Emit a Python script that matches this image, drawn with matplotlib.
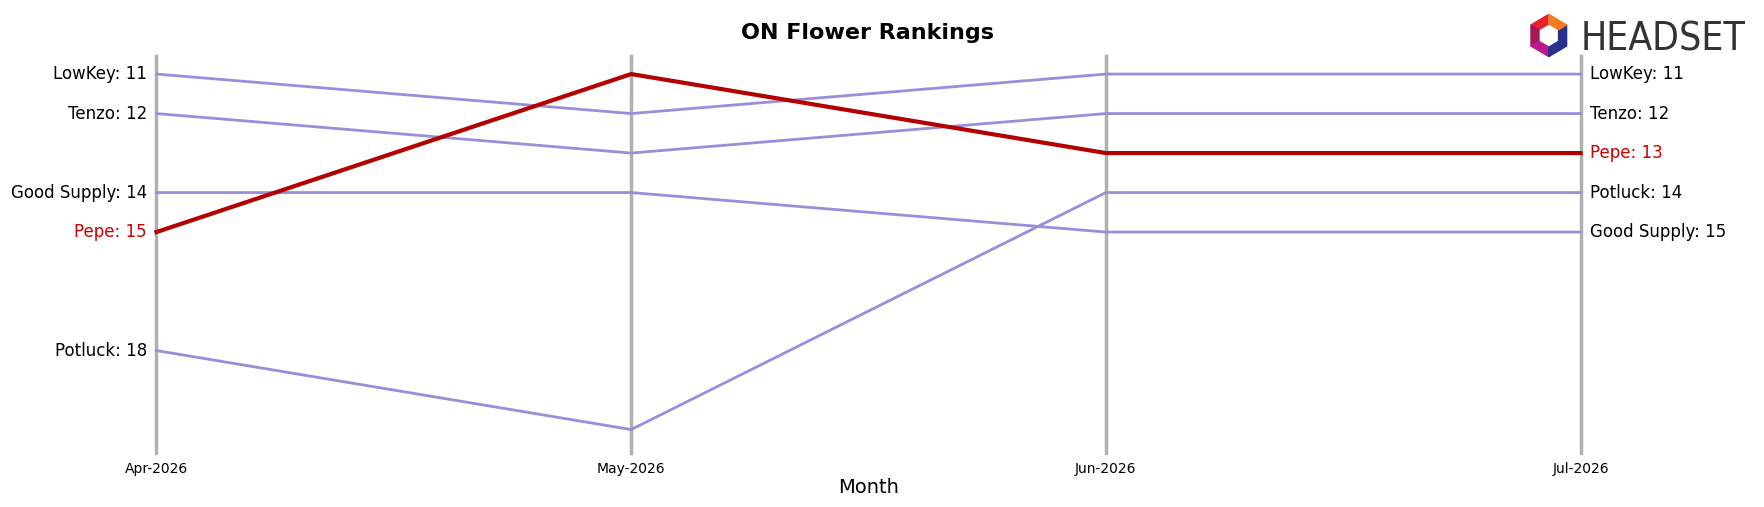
import matplotlib.pyplot as plt
import numpy as np
from matplotlib.patches import Polygon

months = ["Apr-2026", "May-2026", "Jun-2026", "Jul-2026"]
brands = ["LowKey", "Tenzo", "Good Supply", "Pepe", "Potluck"]
ranks = {
    "LowKey": [11, 12, 11, 11],
    "Tenzo": [12, 13, 12, 12],
    "Good Supply": [14, 14, 15, 15],
    "Pepe": [15, 11, 13, 13],
    "Potluck": [18, 20, 14, 14],
}
highlight = "Pepe"

fig = plt.figure(figsize=(17.64, 5.07), dpi=100)
ax = fig.add_axes([0.0887, 0.106, 0.8073, 0.783])
x = list(range(len(months)))

for xi in x:
    ax.axvline(xi, color="#b0b0b0", lw=2.5, zorder=0, clip_on=False)

for b in brands:
    if b == highlight:
        ax.plot(x, ranks[b], color="#b30000", lw=3, zorder=3, clip_on=False)
    else:
        ax.plot(x, ranks[b], color="#9b8ddc", lw=2, zorder=2, clip_on=False)

for b in brands:
    c = "#cc0000" if b == highlight else "black"
    ax.text(-0.02, ranks[b][0], f"{b}: {ranks[b][0]}", ha="right", va="center", fontsize=12, color=c)
    ax.text(3.02, ranks[b][-1], f"{b}: {ranks[b][-1]}", ha="left", va="center", fontsize=12, color=c)

ax.set_ylim(20.6, 10.55)
ax.set_xlim(0, 3)
ax.set_yticks([])
ax.set_xticks(x)
ax.set_xticklabels(months, fontsize=10)
ax.tick_params(axis="x", length=0, pad=6)
for s in ax.spines.values():
    s.set_visible(False)
ax.set_xlabel("Month", fontsize=14, labelpad=2)
fig.suptitle("ON Flower Rankings", fontsize=16, fontweight="bold", x=0.492, y=0.955)

# logo
fig.text(0.896, 0.922, "HEADSET", fontsize=28, color="#333333", va="center", ha="left",
         family="DejaVu Sans", fontstretch="condensed")
cols = ["#e8212b", "#a3195b", "#c0188c", "#2b2f8f", "#2b2f8f", "#f47b20"]
la = fig.add_axes([0.864, 0.88, 0.028, 0.1])
la.set_xlim(-1.2, 1.2); la.set_ylim(-1.2, 1.2); la.axis("off")
ang = np.deg2rad(np.arange(90, 450, 60))
for i in range(6):
    a0, a1 = ang[i], ang[i] + np.deg2rad(60)
    pts = [(np.cos(a0), np.sin(a0)), (np.cos(a1), np.sin(a1)),
           (0.55*np.cos(a1), 0.55*np.sin(a1)), (0.55*np.cos(a0), 0.55*np.sin(a0))]
    la.add_patch(Polygon(pts, color=cols[i]))

fig.savefig("out.png", dpi=100)
